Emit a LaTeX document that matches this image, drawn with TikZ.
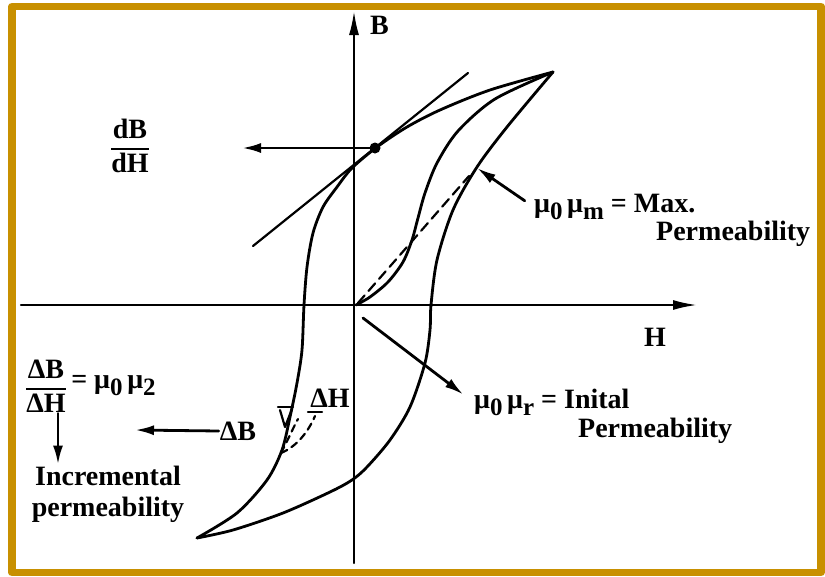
\documentclass[tikz,border=0pt]{standalone}
\usepackage{fontspec}
\setmainfont{Liberation Serif}
\usetikzlibrary{arrows.meta}
\definecolor{framegold}{RGB}{200,144,0}
\newcommand{\lowsub}[1]{\raisebox{-7pt}{\fontsize{25}{25}\selectfont #1}}

\begin{document}
\begin{tikzpicture}[x=1pt,y=-1pt, font=\fontsize{28}{31}\selectfont\bfseries, line cap=round, line join=round,
  curve/.style={draw=black,line width=2.8pt},
  thinline/.style={draw=black,line width=2.2pt},
  axisline/.style={draw=black,line width=2.2pt,-{Latex[length=24pt,width=10pt]}},
  pointer/.style={draw=black,line width=2.8pt,-{Latex[length=19pt,width=10pt]}},
  lbl/.style={inner sep=1pt},
  dot/.style={circle,fill=black,inner sep=0pt,minimum size=11pt}]
\useasboundingbox (0,0) rectangle (825,576);
\fill[white] (0,0) rectangle (825,576);
\draw[draw=framegold,line width=7.5pt] (12,6.5) rectangle (821,572.5);

% axes
\coordinate (hstart) at (21,305);
\coordinate (htip) at (697,305);
\coordinate (bstart) at (354,563);
\coordinate (btip) at (354,11);
\draw[axisline] (hstart) -- (htip);
\draw[axisline] (bstart) -- (btip);
\node[lbl,anchor=west] (blabel) at (369,25) {B};
\node[lbl] (hlabel) at (655,337) {H};

% hysteresis loop: descending and ascending branches
\draw[curve] plot[smooth] coordinates {(553,72) (490,90) (440,110) (407,127) (377,147) (352,168) (337,187) (323,207) (313,233) (307,267) (304,305) (302,350) (297,383) (290,417) (282,450) (267,480) (237,513) (197,538)};
\draw[curve] plot[smooth] coordinates {(197,538) (233,530) (283,513) (330,492) (352,480) (367,467) (390,440) (410,407) (425,363) (430,330) (431,305) (437,260) (453,210) (477,167) (507,127) (553,72)};

% initial magnetisation curve and max. permeability line
\draw[curve] plot[smooth] coordinates {(356,305) (370,297) (388,282) (403,262) (412,240) (418,218) (425,193) (437,163) (458,131) (495,99) (553,72)};
\draw[thinline,dash pattern=on 10pt off 6pt] (358,303) -- (469,176);

% tangent giving dB/dH
\coordinate (tanlow) at (253,246);
\coordinate (tanhigh) at (468,73);
\draw[thinline] (tanlow) -- (tanhigh);
\node[dot] (slopept) at (375,148) {};
\coordinate (dbdhtip) at (242,148);
\draw[pointer] (slopept.center) -- (dbdhtip);
\node[lbl] (dbdh) at (130,146) {$\displaystyle{\hbox{dB}\above 1.3pt\hbox{dH}}$};

% minor loop
\draw[thinline] (278,407) -- (293,407);
\draw[thinline] (308,412) -- (322,412);
\draw[thinline] (280,410) -- (285,427) -- (292,409);
\draw[thinline,dash pattern=on 7pt off 5pt] (281,453) .. controls (288,440) and (292,430) .. (298,419);
\draw[thinline,dash pattern=on 7pt off 5pt] (281,453) .. controls (298,446) and (309,430) .. (315,416);
\node[lbl] (dhlabel) at (330,398) {ΔH};
\node[lbl] (dblabel) at (238,431) {ΔB};
\coordinate (dbtip) at (135,430);
\draw[pointer] (dblabel.west) -- (dbtip);

% incremental permeability
\node[lbl] (incfrac) at (46,386) {$\displaystyle{\hbox{ΔB}\above 1.3pt\hbox{ΔH}}$};
\node[lbl,anchor=west] (mutwo) at ([xshift=2pt]incfrac.east) {= μ\lowsub{0}\,μ\lowsub{2}};
\node[lbl,align=center] (inclabel) at (108,494) {Incremental\\permeability};
\coordinate (incarrowtop) at ([xshift=12pt]incfrac.south);
\draw[pointer] (incarrowtop) -- (incarrowtop |- inclabel.north);

% max. permeability
\node[lbl,anchor=base west] (mumax) at (533,212) {μ\lowsub{0}\,μ\lowsub{m} = Max.};
\node[lbl,anchor=base west] (maxperm) at (655,240) {Permeability};
\coordinate (maxtip) at (477,168);
\draw[pointer,shorten <=10pt] (mumax.west) -- (maxtip);

% initial permeability
\coordinate (initstart) at (363,318);
\node[lbl,anchor=base west] (muinit) at (473,408) {μ\lowsub{0}\,μ\lowsub{r} = Inital};
\node[lbl,anchor=base west] (initperm) at (577,437) {Permeability};
\draw[pointer,shorten >=12pt] (initstart) -- (muinit.west);
\end{tikzpicture}
\end{document}
